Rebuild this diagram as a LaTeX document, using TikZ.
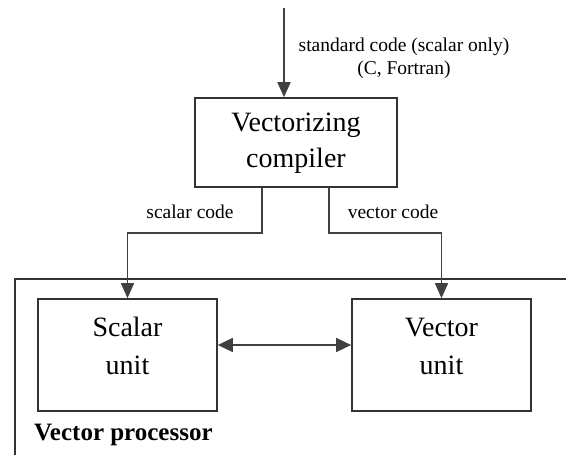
\documentclass[tikz,border=0pt]{standalone}
\usepackage{fontspec}
\setmainfont{Liberation Serif}
\usetikzlibrary{positioning,arrows.meta}

\tikzset{
	unitbox/.style={draw=black!80, line width=1.7pt, minimum width=179pt, minimum height=112pt, inner sep=0pt},
	flow/.style={draw=black!75, line width=1.7pt, -{Triangle[length=15pt,width=13pt]}},
	biflow/.style={draw=black!75, line width=1.7pt, {Triangle[length=15pt,width=14pt]}-{Triangle[length=15pt,width=14pt]}},
	small/.style={font=\fontsize{19.5}{23}\selectfont, align=center, inner sep=0pt},
	big/.style={font=\fontsize{28}{36}\selectfont, align=center, inner sep=0pt}
}

\begin{document}
\begin{tikzpicture}[x=1pt,y=-1pt]
		
		\useasboundingbox (0,0) rectangle (566,455);
		\clip (0,0) rectangle (566,455);
		
		% vector processor frame, runs off the page
		\draw[black!80, line width=1.7pt] (15,279) rectangle (590,480);
		\node[font=\fontsize{25}{28}\selectfont\bfseries, anchor=west, inner sep=0pt] (proc) at (34,435) {Vector processor};
		
		\node[draw=black!80, line width=1.7pt, minimum width=202pt, minimum height=89pt, inner sep=0pt] (comp) at (296,142.5) {};
		\node[big] (comptxt) at ([yshift=-1pt]comp.center) {Vectorizing\\compiler};
		
		\node[unitbox] (scalar) at (127.5,355) {};
		\node[unitbox] (vector) at (441.5,355) {};
		\node[big, font=\fontsize{28}{38}\selectfont] (scalartxt) at ([yshift=9pt]scalar.center) {Scalar\\unit};
		\node[big, font=\fontsize{28}{38}\selectfont] (vectortxt) at ([yshift=9pt]vector.center) {Vector\\unit};
		
		\coordinate (src) at (284,8);
		\draw[flow] (src) -- (src |- comp.north);
		\node[small] (srctxt) at (404,58) {standard code (scalar only)\\(C, Fortran)};
		
		\draw[flow] ([xshift=-34pt]comp.south) -- ++(0,45) -| (scalar.north);
		\draw[flow] ([xshift=33pt]comp.south) -- ++(0,45) -| (vector.north);
		\node[small] (scode) at (190,212) {scalar code};
		\node[small] (vcode) at (393,212) {vector code};
		
		\draw[biflow] ([yshift=10pt]scalar.east) -- ([yshift=10pt]vector.west);
		
	\end{tikzpicture}
\end{document}
